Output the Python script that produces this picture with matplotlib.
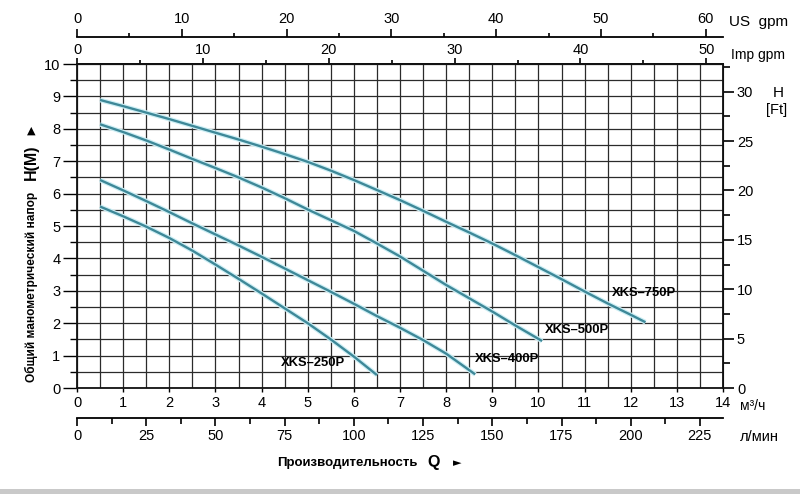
import numpy as np
import matplotlib
matplotlib.use("Agg")
import matplotlib.pyplot as plt
from matplotlib.ticker import MultipleLocator

plt.rcParams['font.family'] = ['Liberation Sans', 'DejaVu Sans']

# ---- data (Q in m³/h, H in m) ----
q_750 = [0.5, 1.0, 1.5, 2.0, 2.5, 3.0, 3.5, 4.0, 4.5, 5.0, 5.5, 6.0, 6.5, 7.0, 7.5,
         8.0, 8.5, 9.0, 9.5, 10.0, 10.5, 11.0, 11.5, 12.0, 12.32]
h_750 = [8.89, 8.70, 8.50, 8.30, 8.09, 7.88, 7.67, 7.45, 7.22, 6.98, 6.71, 6.42, 6.11, 5.80, 5.47,
         5.13, 4.80, 4.46, 4.10, 3.73, 3.36, 2.98, 2.61, 2.26, 2.03]

q_500 = [0.5, 1.0, 1.5, 2.0, 2.5, 3.0, 3.5, 4.0, 4.5, 5.0, 5.5, 6.0, 6.5, 7.0, 7.5,
         8.0, 8.5, 9.0, 9.5, 10.08]
h_500 = [8.14, 7.90, 7.64, 7.36, 7.07, 6.79, 6.50, 6.19, 5.86, 5.51, 5.18, 4.85, 4.46, 4.06, 3.62,
         3.18, 2.77, 2.36, 1.93, 1.45]

q_400 = [0.5, 1.0, 1.5, 2.0, 2.5, 3.0, 3.5, 4.0, 4.5, 5.0, 5.5, 6.0, 6.5, 7.0, 7.5, 8.0, 8.63]
h_400 = [6.42, 6.10, 5.77, 5.43, 5.08, 4.74, 4.40, 4.05, 3.69, 3.33, 2.97, 2.60, 2.22, 1.86, 1.48, 1.06, 0.42]

q_250 = [0.5, 1.0, 1.5, 2.0, 2.5, 3.0, 3.5, 4.0, 4.5, 5.0, 5.5, 6.0, 6.5]
h_250 = [5.60, 5.30, 4.98, 4.63, 4.24, 3.81, 3.37, 2.92, 2.46, 2.00, 1.50, 0.97, 0.40]

series = [("XKS–250P", q_250, h_250, (5.11, 0.77)),
          ("XKS–400P", q_400, h_400, (9.31, 0.90)),
          ("XKS–500P", q_500, h_500, (10.83, 1.78)),
          ("XKS–750P", q_750, h_750, (12.28, 2.93))]

x_ticks = list(range(0, 15))
y_ticks = list(range(0, 11))
usgpm_ticks = [0, 10, 20, 30, 40, 50, 60]
impgpm_ticks = [0, 10, 20, 30, 40, 50]
lmin_ticks = [0, 25, 50, 75, 100, 125, 150, 175, 200, 225]
ft_ticks = [0, 5, 10, 15, 20, 25, 30]

US = 4.40287
IMP = 3.66615
LMIN = 1000.0 / 60.0
FT = 3.28084

fig = plt.figure(figsize=(8, 4.97), dpi=100)
ax = fig.add_axes([77 / 800, 109 / 497, 646 / 800, 324 / 497])
ax.set_xlim(0, 14)
ax.set_ylim(0, 10)

# grid
ax.set_xticks(x_ticks)
ax.set_yticks(y_ticks)
ax.xaxis.set_minor_locator(MultipleLocator(0.5))
ax.yaxis.set_minor_locator(MultipleLocator(0.5))
ax.grid(which='both', color='#2b2b2b', lw=0.9)
ax.set_axisbelow(True)
ax.tick_params(axis='x', which='major', direction='out', length=3, labelsize=10.5, pad=3, width=1)
ax.tick_params(axis='x', which='minor', length=0)
ax.tick_params(axis='y', which='major', direction='out', length=10, labelsize=10.5, pad=2, width=1)
ax.tick_params(axis='y', which='minor', direction='out', length=5, width=1)
for s in ax.spines.values():
    s.set_linewidth(1.3)
    s.set_color('#111111')

# curves
for name, q, h, (lx, ly) in series:
    ax.plot(q, h, color='#cdeff5', lw=3.4, solid_capstyle='butt', solid_joinstyle='round', zorder=3)
    ax.plot(q, h, color='#3e8898', lw=1.7, solid_capstyle='butt', solid_joinstyle='round', zorder=4)
    ax.text(lx, ly, name, ha='center', va='center', fontsize=9.4, fontweight='bold', zorder=5)

# top axes: Imp gpm
sec_imp = ax.secondary_xaxis('top', functions=(lambda x: x * IMP, lambda x: x / IMP))
sec_imp.set_xticks(impgpm_ticks)
sec_imp.xaxis.set_minor_locator(MultipleLocator(5))
sec_imp.tick_params(which='major', direction='out', length=4, labelsize=10.5, pad=1, width=1.2)
sec_imp.tick_params(which='minor', direction='out', length=3, width=1.2)
sec_imp.spines['top'].set_linewidth(1.3)

# top axes: US gpm
sec_us = ax.secondary_xaxis((388 - 37) / 324, functions=(lambda x: x * US, lambda x: x / US))
sec_us.set_xticks(usgpm_ticks)
sec_us.xaxis.set_minor_locator(MultipleLocator(5))
sec_us.tick_params(which='major', direction='out', length=6, labelsize=10.5, pad=2, width=1.2)
sec_us.tick_params(which='minor', direction='out', length=3, width=1.2)
sec_us.spines['top'].set_linewidth(1.3)

# bottom: л/мин
sec_l = ax.secondary_xaxis((388 - 418) / 324, functions=(lambda x: x * LMIN, lambda x: x / LMIN))
sec_l.set_xticks(lmin_ticks)
sec_l.xaxis.set_minor_locator(MultipleLocator(12.5))
sec_l.tick_params(which='major', direction='out', length=6, labelsize=10.5, pad=2, width=1.2)
sec_l.tick_params(which='minor', direction='out', length=4, width=1.2)
sec_l.spines['bottom'].set_linewidth(1.3)

# right: ft
sec_ft = ax.secondary_yaxis('right', functions=(lambda y: y * FT, lambda y: y / FT))
sec_ft.set_yticks(ft_ticks)
sec_ft.yaxis.set_minor_locator(MultipleLocator(2.5))
sec_ft.tick_params(which='major', direction='out', length=8, labelsize=10.5, pad=2, width=1.2)
sec_ft.tick_params(which='minor', direction='out', length=5, width=1.2)

def ftxt(x, y, s, **kw):
    fig.text(x / 800, 1 - y / 497, s, **kw)

ftxt(729, 22, "US  gpm", fontsize=11, ha='left', va='center')
ftxt(731, 55, "Imp gpm", fontsize=10, ha='left', va='center')
ftxt(778, 93, "H", fontsize=11, ha='center', va='center')
ftxt(777, 110, "[Ft]", fontsize=10.5, ha='center', va='center')
ftxt(740, 406, "м³/ч", fontsize=10, ha='left', va='center')
ftxt(740, 437, "л/мин", fontsize=10.5, ha='left', va='center')

# y label pieces
ftxt(31, 287, "Общий манометрический напор", fontsize=8.6, fontweight='bold',
     rotation=90, ha='center', va='center')
ftxt(31, 162, "H(M)", fontsize=11.5, fontweight='bold', rotation=90, ha='center', va='center')
ftxt(31, 131, "▲", fontsize=8, rotation=0, ha='center', va='center', family=['DejaVu Sans'])

# x label pieces
ftxt(347, 463, "Производительность", fontsize=9.5, fontweight='bold', ha='center', va='center')
ftxt(434, 462, "Q", fontsize=11.5, fontweight='bold', ha='center', va='center')
ftxt(457, 463, "►", fontsize=8, ha='center', va='center', family=['DejaVu Sans'])

# grey band at bottom
fig.add_artist(plt.Rectangle((0, 1 - 494 / 497), 1, 5 / 497, transform=fig.transFigure,
                             color='#c9c9c9', lw=0))

fig.savefig("out.png", dpi=100)
